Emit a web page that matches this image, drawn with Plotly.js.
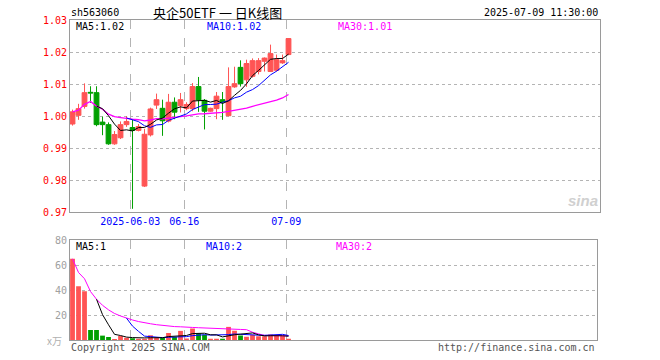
<!DOCTYPE html>
<html><head><meta charset="utf-8">
<script src="https://cdn.plot.ly/plotly-3.0.1.min.js"></script>
<style>html,body{margin:0;padding:0;background:#fff}#chart{width:660px;height:360px}</style>
</head><body><div id="chart"></div>
<script>
const dates = ['2025-05-19','2025-05-20','2025-05-21','2025-05-22','2025-05-23','2025-05-26','2025-05-27','2025-05-28','2025-05-29','2025-05-30',
  '2025-06-03','2025-06-04','2025-06-05','2025-06-06','2025-06-09','2025-06-10','2025-06-11','2025-06-12','2025-06-13','2025-06-16',
  '2025-06-17','2025-06-18','2025-06-19','2025-06-20','2025-06-23','2025-06-24','2025-06-25','2025-06-26','2025-06-27','2025-06-30',
  '2025-07-01','2025-07-02','2025-07-03','2025-07-04','2025-07-07','2025-07-08','2025-07-09'];
const openP  = [0.9975,1.0002,1.0030,1.0074,1.0073,0.9981,0.9973,0.9913,0.9932,0.9973,
  0.9964,0.9955,0.9781,0.9941,1.0034,1.0024,0.9984,1.0043,1.0032,1.0023,
  1.0023,1.0092,1.0049,1.0015,1.0023,1.0051,1.0001,1.0091,1.0152,1.0113,
  1.0124,1.0139,1.0171,1.0139,1.0143,1.0166,1.0192];
const highP  = [1.0020,1.0038,1.0102,1.0093,1.0093,0.9998,0.9980,0.9953,0.9983,1.0000,
  0.9988,0.9975,0.9960,1.0026,1.0070,1.0051,1.0069,1.0058,1.0072,1.0043,
  1.0103,1.0122,1.0053,1.0026,1.0075,1.0075,1.0152,1.0154,1.0174,1.0176,
  1.0180,1.0181,1.0183,1.0223,1.0192,1.0192,1.0243];
const lowP   = [0.9970,0.9988,1.0023,1.0041,0.9968,0.9940,0.9910,0.9910,0.9928,0.9966,
  0.9710,0.9952,0.9778,0.9936,1.0022,0.9938,0.9980,0.9990,1.0011,1.0018,
  1.0015,1.0013,0.9958,1.0013,0.9990,0.9988,0.9999,1.0088,1.0092,1.0091,
  1.0120,1.0130,1.0139,1.0138,1.0139,1.0163,1.0190];
const closeP = [1.0013,1.0023,1.0073,1.0072,0.9973,0.9973,0.9913,0.9942,0.9973,0.9983,
  0.9955,0.9967,0.9943,1.0022,1.0051,0.9985,1.0043,1.0012,1.0051,1.0036,
  1.0092,1.0050,1.0015,1.0024,1.0062,1.0044,1.0092,1.0101,1.0101,1.0164,
  1.0173,1.0173,1.0181,1.0195,1.0176,1.0173,1.0242];
const volume = [65,43,39,8,8,3.5,2.4,0.8,3.2,1.8,
  1.4,1.0,1.0,3.8,1.8,1.6,5.6,2.4,7.3,1.2,
  9.2,5.2,4.2,1.0,1.0,1.0,10.5,7.4,3.6,2.6,
  4.2,3.0,3.0,4.4,3.4,3.2,1.0];
const tickDates = ['2025-06-03','2025-06-16','2025-07-09'];
const tickText  = ['2025-06-03','06-16','07-09'];
const priceMaText = ['MA5:1.02','MA10:1.02','MA30:1.01'];
const volMaText   = ['MA5:1','MA10:2','MA30:2'];

const RED='#ff5454', GREEN='#00a000';
const idx = dates.map((d,i)=>i);
function ma(arr,n,expanding){
  return arr.map((v,i)=>{
    if(i<n-1 && !expanding) return null;
    const s=Math.max(0,i-n+1); let sum=0;
    for(let k=s;k<=i;k++) sum+=arr[k];
    return sum/(i-s+1);
  });
}
const volColors = closeP.map((c,i)=> c>=openP[i] ? RED : GREEN);
const tickVals = tickDates.map(d=>dates.indexOf(d)-0.38);

const W=660,H=360,L=70,R=60,T=20,B=20;
const px = x => (x-L)/(W-L-R);
const py = y => (H-B-y)/(H-T-B);
const mono = 'DejaVu Sans Mono, monospace';

const traces = [
  {type:'candlestick', x:idx, open:openP, high:highP, low:lowP, close:closeP, xaxis:'x', yaxis:'y',
   increasing:{line:{color:RED,width:1},fillcolor:RED},
   decreasing:{line:{color:GREEN,width:1},fillcolor:GREEN},
   whiskerwidth:0, showlegend:false, hoverinfo:'skip'},
  {type:'scatter', mode:'lines', x:idx, y:ma(closeP,30,true), line:{color:'#ff00ff',width:1.3}, xaxis:'x', yaxis:'y', hoverinfo:'skip'},
  {type:'scatter', mode:'lines', x:idx, y:ma(closeP,10,false), line:{color:'#0000ff',width:1}, xaxis:'x', yaxis:'y', hoverinfo:'skip'},
  {type:'scatter', mode:'lines', x:idx, y:ma(closeP,5,false), line:{color:'#000000',width:1}, xaxis:'x', yaxis:'y', hoverinfo:'skip'},
  {type:'bar', x:idx, y:volume, marker:{color:volColors,line:{width:0}}, width:0.8, xaxis:'x2', yaxis:'y2', hoverinfo:'skip'},
  {type:'scatter', mode:'lines', x:idx, y:ma(volume,30,true), line:{color:'#ff00ff',width:1}, xaxis:'x2', yaxis:'y2', hoverinfo:'skip'},
  {type:'scatter', mode:'lines', x:idx, y:ma(volume,10,false), line:{color:'#0000ff',width:1}, xaxis:'x2', yaxis:'y2', hoverinfo:'skip'},
  {type:'scatter', mode:'lines', x:idx, y:ma(volume,5,false), line:{color:'#000000',width:1}, xaxis:'x2', yaxis:'y2', hoverinfo:'skip'}
];

function ann(text,x,y,color,xanchor,size,family){
  return {text:text, xref:'paper', yref:'paper', x:px(x), y:py(y), xanchor:xanchor||'left', yanchor:'middle',
    showarrow:false, font:{family:family||mono, size:size||10, color:color||'#000'}};
}
const annotations = [
  ann('sh563060',69,13,'#000','left',10),
  ann('央企50ETF 一 日K线图',217,13,'#000','center',13,'Noto Sans CJK SC'),
  ann('2025-07-09 11:30:00',600,13,'#000','right',10),
  ann(priceMaText[0],74,27,'#000','left',10),
  ann(priceMaText[1],205,27,'#0000ff','left',10),
  ann(priceMaText[2],336,27,'#ff00ff','left',10),
  ann(volMaText[0],74,246,'#000','left',10),
  ann(volMaText[1],204,246,'#0000ff','left',10),
  ann(volMaText[2],334,246,'#ff00ff','left',10),
  ann('x万',64,340,'#b0b0b0','right',10,'Noto Sans CJK SC'),
  ann('Copyright 2025 SINA.COM',69,347,'#555','left',10),
  ann('http://finance.sina.com.cn',597,347,'#555','right',10),
  ann('<b><i>sina</i></b>',583,200,'#d0d0d0','center',15,'Liberation Sans')
];

const grid = '#b4b4b4';
const layout = {
  width:W, height:H, margin:{l:L,r:R,t:T,b:B}, paper_bgcolor:'#fff', plot_bgcolor:'#fff',
  showlegend:false, hovermode:false, boxgap:0.2, boxgroupgap:0,
  xaxis:{domain:[0,1], anchor:'y', range:[-0.42, -0.42+530/6], tickvals:tickVals, ticktext:tickText,
    showgrid:true, griddash:'dash', gridcolor:grid, gridwidth:1, showline:true, mirror:true, linecolor:'#9a9a9a', linewidth:1,
    ticks:'', zeroline:false, rangeslider:{visible:false}, tickfont:{family:mono,size:10,color:'#0000ff'}, fixedrange:true},
  yaxis:{domain:[py(212),1], anchor:'x', range:[0.97,1.03], tick0:0.97, dtick:0.01, tickformat:'.2f',
    showgrid:true, griddash:'dot', gridcolor:grid, showline:true, mirror:true, linecolor:'#9a9a9a', linewidth:1,
    ticks:'', zeroline:false, tickfont:{family:mono,size:10,color:'#ff0000'}, fixedrange:true},
  xaxis2:{domain:[0,527/530], anchor:'y2', range:[-0.42, -0.42+527/6], tickvals:tickVals, showticklabels:false,
    showgrid:true, griddash:'dash', gridcolor:grid, showline:true, mirror:true, linecolor:'#9a9a9a', linewidth:1,
    ticks:'', zeroline:false, fixedrange:true},
  yaxis2:{domain:[0,py(240)], anchor:'x2', range:[0,80], tickvals:[20,40,60,80],
    showgrid:true, griddash:'dot', gridcolor:grid, showline:true, mirror:true, linecolor:'#9a9a9a', linewidth:1,
    ticks:'', zeroline:false, tickfont:{family:mono,size:10,color:'#a0a0a0'}, fixedrange:true},
  annotations:annotations
};
Plotly.newPlot('chart', traces, layout, {staticPlot:true, displayModeBar:false});
</script>
</body></html>
